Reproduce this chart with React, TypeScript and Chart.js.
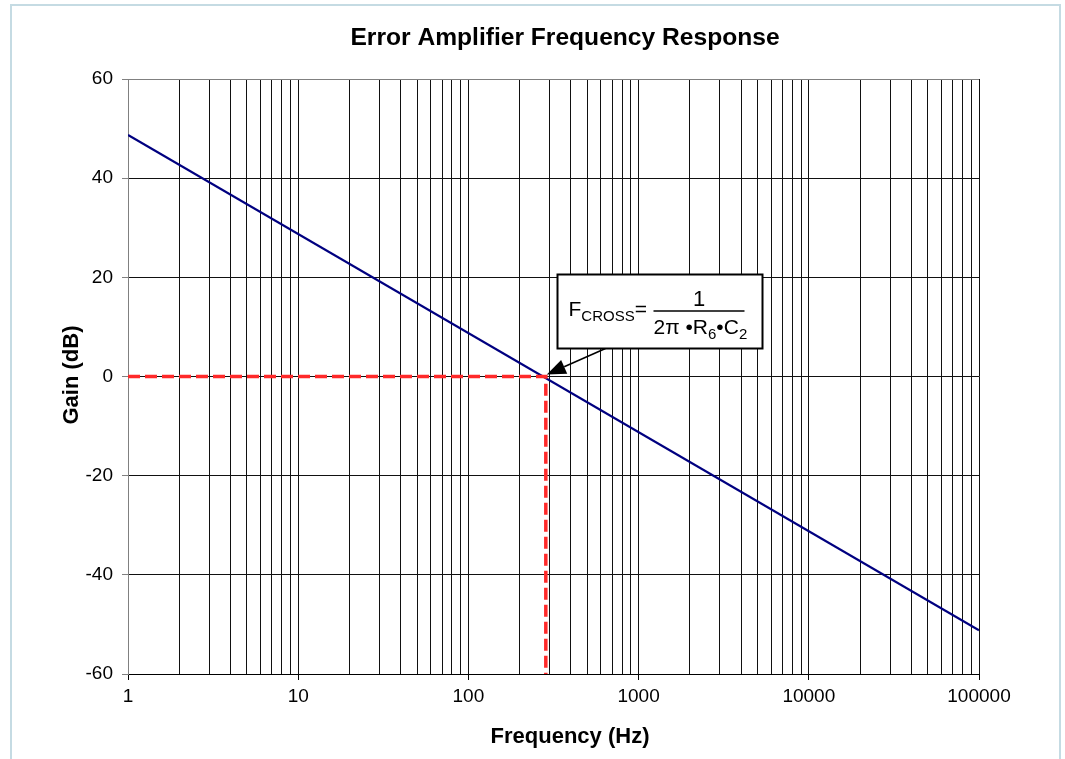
import React, { useEffect, useRef } from "react";
import { Chart, registerables } from "chart.js";

Chart.register(...registerables);

// ---- data ----
const GAIN_FREQ = [1, 100000];
const GAIN_DB = [48.7, -51.2];
const CROSS_FREQ = [1, 285, 285];
const CROSS_DB = [0, 0, -60];
const X_DECADES = [1, 10, 100, 1000, 10000, 100000];
const X_MULTIPLIERS = [1, 2, 3, 4, 5, 6, 7, 8, 9];
const Y_TICKS = [-60, -40, -20, 0, 20, 40, 60];

const TITLE = "Error Amplifier Frequency Response";
const X_TITLE = "Frequency (Hz)";
const Y_TITLE = "Gain (dB)";

const FONT = "'Liberation Sans', Arial, sans-serif";

const W = 1065;
const H = 759;

const overlayPlugin = {
  id: "overlay",
  beforeDraw(chart: any) {
    const ctx = chart.ctx;
    ctx.save();
    ctx.fillStyle = "#ffffff";
    ctx.fillRect(0, 0, W, H);
    ctx.strokeStyle = "#c5dbe3";
    ctx.lineWidth = 2;
    ctx.beginPath();
    ctx.moveTo(11, H + 10);
    ctx.lineTo(11, 5);
    ctx.lineTo(1060, 5);
    ctx.lineTo(1060, H + 10);
    ctx.stroke();
    ctx.restore();
  },
  afterDraw(chart: any) {
    const ctx = chart.ctx;
    const xs = chart.scales.x;
    const ys = chart.scales.y;
    ctx.save();
    ctx.fillStyle = "#000";
    // titles
    ctx.font = `bold 24.6px ${FONT}`;
    ctx.textAlign = "center";
    ctx.textBaseline = "alphabetic";
    ctx.fillText(TITLE, 565, 45);
    ctx.font = `bold 22px ${FONT}`;
    ctx.fillText(X_TITLE, 570, 743);
    ctx.save();
    ctx.translate(78, 375);
    ctx.rotate(-Math.PI / 2);
    ctx.fillText(Y_TITLE, 0, 0);
    ctx.restore();

    // annotation box
    const bx = Math.round(xs.getPixelForValue(331)) + 0.5;
    const by = Math.round(ys.getPixelForValue(20.7)) + 0.5;
    const bw = 205;
    const bh = 74;

    // arrow
    const tipX = xs.getPixelForValue(CROSS_FREQ[1]) + 1;
    const tipY = ys.getPixelForValue(0) - 2;
    const sx = bx + 48;
    const sy = by + bh;
    const ang = Math.atan2(tipY - sy, tipX - sx);
    const hl = 19;
    const hw = 7.5;
    const baseX = tipX - hl * Math.cos(ang);
    const baseY = tipY - hl * Math.sin(ang);
    ctx.strokeStyle = "#000";
    ctx.lineWidth = 1.5;
    ctx.beginPath();
    ctx.moveTo(sx, sy);
    ctx.lineTo(baseX, baseY);
    ctx.stroke();
    ctx.beginPath();
    ctx.moveTo(tipX, tipY);
    ctx.lineTo(baseX + hw * Math.sin(ang), baseY - hw * Math.cos(ang));
    ctx.lineTo(baseX - hw * Math.sin(ang), baseY + hw * Math.cos(ang));
    ctx.closePath();
    ctx.fill();

    ctx.fillStyle = "#fff";
    ctx.fillRect(bx, by, bw, bh);
    ctx.strokeStyle = "#000";
    ctx.lineWidth = 2;
    ctx.strokeRect(bx, by, bw, bh);

    ctx.fillStyle = "#000";
    ctx.textAlign = "left";
    ctx.textBaseline = "alphabetic";
    const big = `21px ${FONT}`;
    const small = `15px ${FONT}`;
    let x = bx + 11;
    ctx.font = big;
    ctx.fillText("F", x, by + 41);
    x += ctx.measureText("F").width;
    ctx.font = small;
    ctx.fillText("CROSS", x, by + 46);
    x += ctx.measureText("CROSS").width;
    ctx.font = big;
    ctx.fillText("=", x, by + 41);

    // fraction
    const fx = bx + 96;
    const fw = 91;
    ctx.lineWidth = 1.5;
    ctx.beginPath();
    ctx.moveTo(fx, by + 36.5);
    ctx.lineTo(fx + fw, by + 36.5);
    ctx.stroke();
    ctx.textAlign = "center";
    ctx.font = `22px ${FONT}`;
    ctx.fillText("1", fx + fw / 2, by + 31);
    ctx.textAlign = "left";
    const parts: [string, boolean][] = [
      ["2\u03c0 \u2022R", false],
      ["6", true],
      ["\u2022C", false],
      ["2", true],
    ];
    let dx = fx;
    for (const [t, sub] of parts) {
      ctx.font = sub ? small : big;
      ctx.fillText(t, dx, by + (sub ? 64 : 59));
      dx += ctx.measureText(t).width;
    }
    ctx.restore();
  },
};

export default function App() {
  const ref = useRef<HTMLCanvasElement>(null);
  useEffect(() => {
    if (!ref.current) return;
    const xTickValues: number[] = [];
    X_DECADES.forEach((d, i) => {
      if (i === X_DECADES.length - 1) {
        xTickValues.push(d);
      } else {
        X_MULTIPLIERS.forEach((m) => xTickValues.push(d * m));
      }
    });
    const isDecade = (v: number) => X_DECADES.includes(v);

    const chart = new Chart(ref.current, {
      type: "scatter",
      data: {
        datasets: [
          {
            data: CROSS_FREQ.map((f, i) => ({ x: f, y: CROSS_DB[i] })),
            showLine: true,
            borderColor: "#ff2a2a",
            borderWidth: 3.5,
            borderDash: [12, 5],
            pointRadius: 0,
            fill: false,
          },
          {
            data: GAIN_FREQ.map((f, i) => ({ x: f, y: GAIN_DB[i] })),
            showLine: true,
            borderColor: "#000080",
            borderWidth: 2.3,
            pointRadius: 0,
            fill: false,
          },
        ],
      },
      options: {
        responsive: false,
        animation: false,
        devicePixelRatio: 1,
        layout: { padding: { top: 79, right: 86, left: 0, bottom: 0 } },
        plugins: {
          legend: { display: false },
          title: { display: false },
          tooltip: { enabled: false },
        },
        scales: {
          x: {
            type: "logarithmic",
            min: 1,
            max: 100000,
            afterFit: (s: any) => {
              s.height = 85;
            },
            afterBuildTicks: (s: any) => {
              s.ticks = xTickValues.map((v) => ({ value: v, major: isDecade(v) }));
            },
            grid: {
              color: "#111",
              lineWidth: 1,
              tickLength: 6,
              tickColor: (c: any) => (c.tick && isDecade(c.tick.value) ? "#000" : "rgba(0,0,0,0)"),
            },
            border: { color: "#000", width: 1 },
            ticks: {
              autoSkip: false,
              maxRotation: 0,
              minRotation: 0,
              padding: 5,
              color: "#000",
              font: { family: FONT, size: 19 },
              callback: (v: any) => (isDecade(Number(v)) ? String(v) : ""),
            },
          },
          y: {
            type: "linear",
            min: -60,
            max: 60,
            afterFit: (s: any) => {
              s.width = 128;
            },
            afterBuildTicks: (s: any) => {
              s.ticks = Y_TICKS.map((v) => ({ value: v }));
            },
            grid: {
              color: (c: any) => (c.tick && c.tick.value === 60 ? "#808080" : "#111"),
              lineWidth: 1,
              tickLength: 6,
              tickColor: "#808080",
            },
            border: { color: "#808080", width: 1 },
            ticks: {
              padding: 9,
              color: "#000",
              font: { family: FONT, size: 19 },
            },
          },
        },
      },
      plugins: [overlayPlugin],
    });
    return () => chart.destroy();
  }, []);
  return (
    <div style={{ position: "fixed", left: 0, top: 0, width: W, height: H, background: "#fff" }}>
      <canvas ref={ref} width={W} height={H} style={{ width: W, height: H, display: "block" }} />
    </div>
  );
}
